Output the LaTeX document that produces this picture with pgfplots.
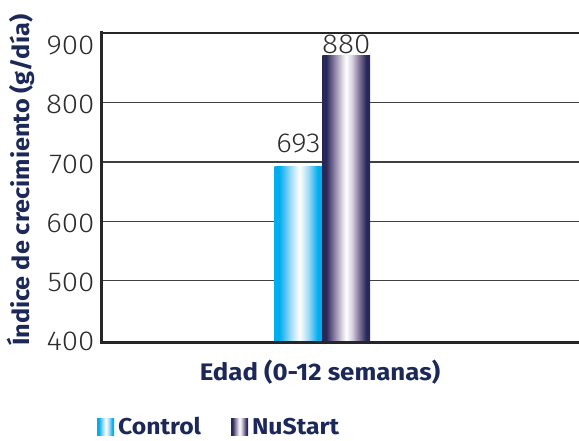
\documentclass[border=0pt]{standalone}
\usepackage{fontspec}
\setmainfont{Fira Sans}[FakeStretch=1.08]
\newfontfamily\lightfont{Fira Sans Light}[FakeStretch=1.08]
\usepackage{pgfplots}
\pgfplotsset{compat=1.18}
\definecolor{navy}{RGB}{27,40,88}
\definecolor{tickgray}{RGB}{45,45,45}
\definecolor{cyanc}{RGB}{0,174,239}
\definecolor{ctrllight}{RGB}{165,220,246}
\definecolor{nudark}{RGB}{40,40,88}
\definecolor{numid}{RGB}{135,122,158}
\definecolor{nulight}{RGB}{215,208,222}
\pgfdeclarehorizontalshading{ctrlshade}{100bp}{color(0bp)=(cyanc); color(25bp)=(cyanc); color(30bp)=(cyanc); color(42bp)=(ctrllight); color(51bp)=(white); color(60bp)=(ctrllight); color(70bp)=(cyanc); color(75bp)=(cyanc); color(100bp)=(cyanc)}
\pgfdeclarehorizontalshading{nushade}{100bp}{color(0bp)=(nudark); color(25bp)=(nudark); color(29bp)=(nudark); color(37bp)=(numid); color(45bp)=(nulight); color(50bp)=(white); color(56bp)=(nulight); color(63bp)=(numid); color(71bp)=(nudark); color(75bp)=(nudark); color(100bp)=(nudark)}
\begin{document}
\begin{tikzpicture}
\useasboundingbox (-102bp,-99bp) rectangle (477bp,342bp);
\begin{axis}[
  at={(0,0)}, anchor=south west,
  scale only axis, width=477bp, height=309bp,
  xmin=-4.12, xmax=5.88, ymin=396, ymax=918,
  clip=false,
  axis line style={draw=none},
  xtick=\empty,
  ytick={500,600,700,800},
  extra y ticks={400,900},
  extra y tick style={grid=none},
  ymajorgrids,
  grid style={line width=1.2bp, color=black!75},
  major tick length=0pt,
  /pgf/number format/assume math mode=true,
  yticklabel style={font=\lightfont\fontsize{27.5}{31}\selectfont, color=tickgray, xshift=-4bp, yshift=-2bp},
  ylabel={Índice de crecimiento (g/día)},
  ylabel style={at={(axis description cs:-0.170,0.524)}, anchor=center, font=\bfseries\fontsize{23.5}{27}\selectfont, text=navy},
  xlabel={Edad (0-12 semanas)},
  xlabel style={at={(axis description cs:0.457,-0.097)}, anchor=center, font=\bfseries\fontsize{24}{28}\selectfont, text=navy},
  legend columns=2,
  legend style={at={(axis description cs:-0.017,-0.275)}, anchor=west, draw=none, fill=none,
    font=\bfseries\fontsize{23}{27}\selectfont, text=navy, nodes={inner sep=1bp},
    /tikz/every odd column/.append style={column sep=3bp},
    /tikz/every even column/.append style={column sep=29bp}},
  legend image code/.code={\path[#1,draw=none] (0bp,-8.5bp) rectangle (17bp,8.5bp);},
  nodes near coords,
  every node near coord/.append style={font=\lightfont\fontsize{27.5}{31}\selectfont, text=tickgray, anchor=south, inner sep=0pt},
]
\addplot[ybar, bar width=1, bar shift=0pt, draw=none, shading=ctrlshade, every node near coord/.append style={yshift=13bp}] coordinates {(0,693)};
\addplot[ybar, bar width=1, bar shift=0pt, draw=none, shading=nushade, every node near coord/.append style={yshift=1.5bp}] coordinates {(1,880)};
\legend{Control, NuStart}
\draw[line width=3bp, color=black!85, line cap=rect] (rel axis cs:0,1) -- (rel axis cs:0,0) -- (rel axis cs:1,0);
\draw[line width=2bp, color=black!85] (rel axis cs:0,1) -- (rel axis cs:1,1);
\end{axis}
\end{tikzpicture}
\end{document}
